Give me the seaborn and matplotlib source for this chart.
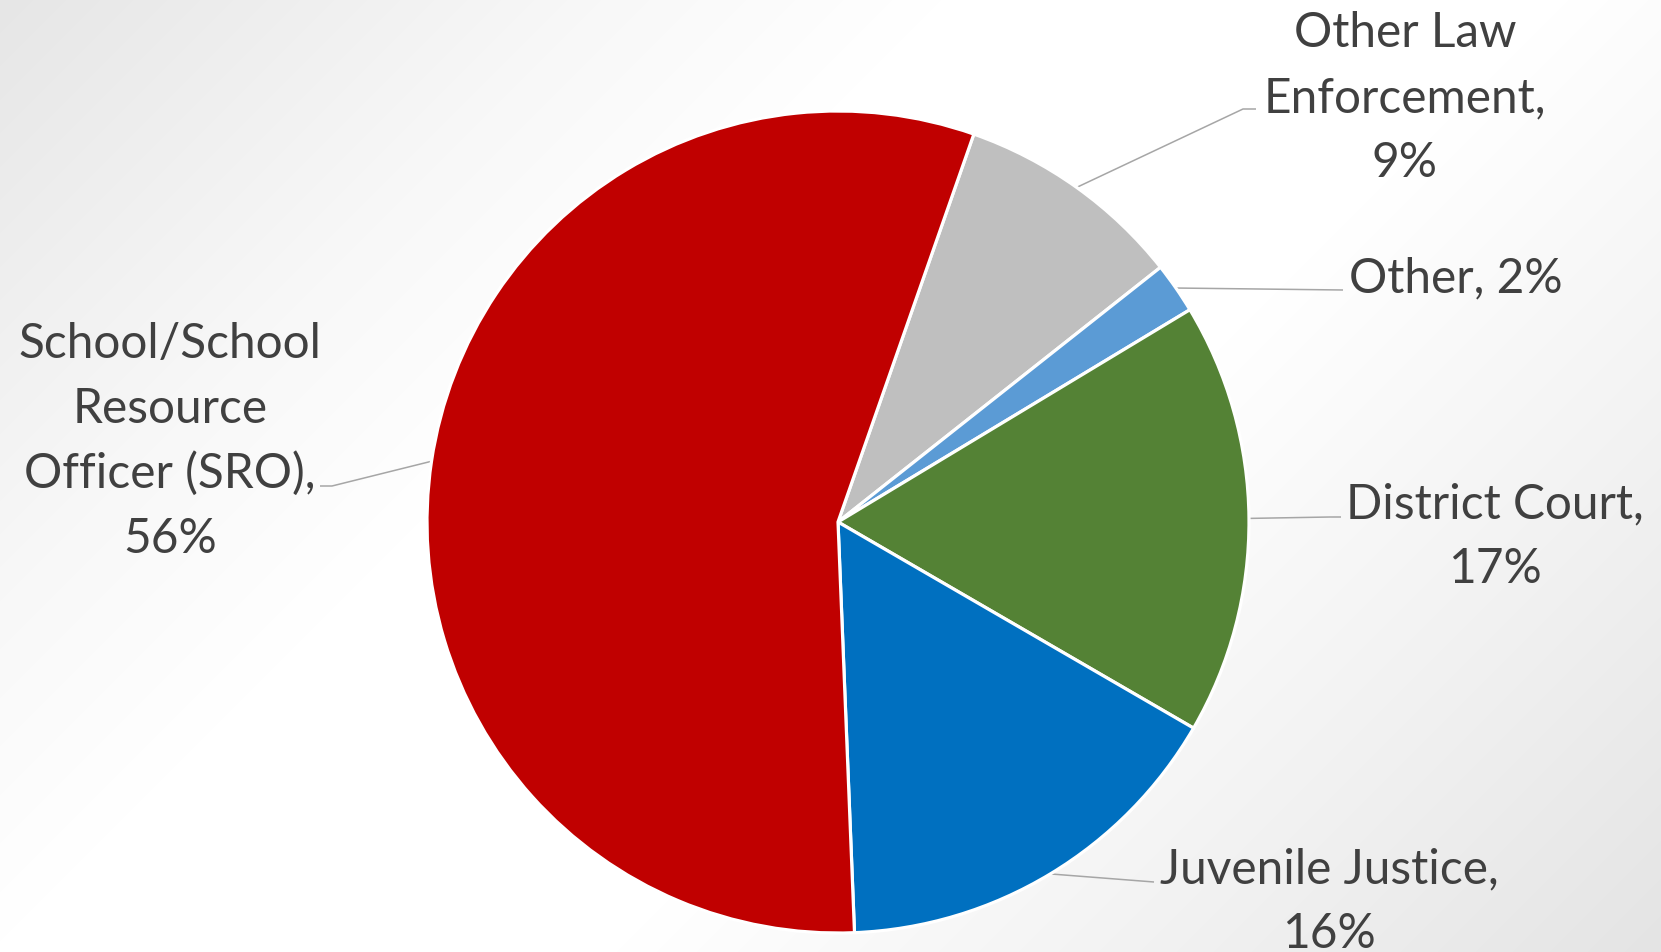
import numpy as np
import matplotlib
matplotlib.use("Agg")
import matplotlib.pyplot as plt
import seaborn as sns

# ---- data ----
categories = ["Other Law Enforcement", "Other", "District Court", "Juvenile Justice",
              "School/School Resource Officer (SRO)"]
shares = [9, 2, 17, 16, 56]
colors = ["#BFBFBF", "#5B9BD5", "#548235", "#0070C0", "#C00000"]
label_lines = [
    ["Other Law", "Enforcement,", "9%"],
    ["Other, 2%"],
    ["District Court,", "17%"],
    ["Juvenile Justice,", "16%"],
    ["School/School", "Resource", "Officer (SRO),", "56%"],
]

# ---- layout (pixel coordinates, y measured from top) ----
W, H = 1661, 953
CX, CY, R = 838, 523, 411
# text anchor: (x, first baseline, ha)
text_pos = [
    (1405, 47, "center"),
    (1349, 292, "left"),
    (1495, 518, "center"),
    (1329, 883, "center"),
    (170, 358, "center"),
]
LINE_STEP = 65
# leader elbows / ends
leader_pts = [
    [(1243, 110), (1256, 110)],
    [(1343, 291)],
    [(1330, 518), (1341, 518)],
    [(1154, 883)],
    [(332, 487), (320, 487)],
]
TXT = "#404040"
LEAD = "#A6A6A6"

sns.set_theme(style="white")
plt.rcParams["font.family"] = ["Lato", "DejaVu Sans"]

fig = plt.figure(figsize=(W / 100, H / 100), dpi=100)
ax = fig.add_axes([0, 0, 1, 1])

def Y(y):
    return H - y

# background gradient
xx, yy = np.meshgrid(np.arange(W), np.arange(H))
t = (xx + yy) / (W + H)
v = np.interp(t, [0.0, 0.23, 0.36, 0.6, 0.8, 1.0], [230, 248, 255, 255, 242, 228]) / 255.0
bg = np.dstack([v, v, v])
ax.imshow(bg, extent=(0, W, 0, H), origin="upper", zorder=0, aspect="auto",
          interpolation="bilinear")

wedges, _ = ax.pie(shares, colors=colors, startangle=90 - 19.3, counterclock=False,
                   center=(CX, Y(CY)), radius=R,
                   wedgeprops=dict(edgecolor="white", linewidth=2.3))
for w in wedges:
    w.set_zorder(2)

ax.set_xlim(0, W)
ax.set_ylim(0, H)
ax.set_aspect("auto")
ax.axis("off")

# font size so that label width matches reference
renderer = fig.canvas.get_renderer()
probe = ax.text(0, 0, "District Court,", fontsize=30)
wpx = probe.get_window_extent(renderer).width
probe.remove()
fs = 30 * 297.0 / wpx

for w, lines, (tx, ty, ha), pts in zip(wedges, label_lines, text_pos, leader_pts):
    mid = np.deg2rad((w.theta1 + w.theta2) / 2)
    sx = CX + R * np.cos(mid)
    sy = Y(CY) + R * np.sin(mid)
    xs = [sx] + [p[0] for p in pts]
    ys = [sy] + [Y(p[1]) for p in pts]
    ax.plot(xs, ys, color=LEAD, lw=1.1, zorder=1.5, solid_capstyle="butt")
    for i, line in enumerate(lines):
        ax.text(tx, Y(ty + i * LINE_STEP), line, ha=ha, va="baseline",
                fontsize=fs, color=TXT, zorder=3)

fig.savefig("out.png", dpi=100)
